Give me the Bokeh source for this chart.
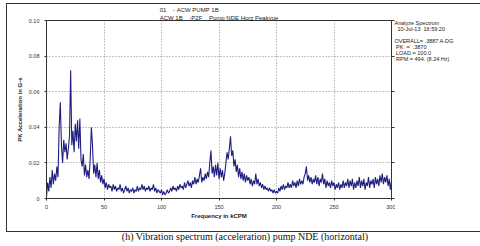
from bokeh.plotting import figure
from bokeh.models import LinearAxis, FixedTicker, Range1d, Div, Title
from bokeh.layouts import column, row
from bokeh.embed import file_html
from bokeh.resources import INLINE

# PK acceleration (G-s) read at 1 kCPM steps, 0..300 kCPM
accel_g = [
    0.001, 0.009, 0.004, 0.012, 0.006, 0.016, 0.008, 0.014, 0.010, 0.018,
    0.012, 0.040, 0.054, 0.030, 0.020, 0.033, 0.026, 0.031, 0.022, 0.028,
    0.035, 0.072, 0.030, 0.038, 0.026, 0.042, 0.032, 0.044, 0.028, 0.045,
    0.022, 0.018, 0.025, 0.013, 0.019, 0.012, 0.016, 0.011, 0.022, 0.040,
    0.030, 0.014, 0.019, 0.012, 0.020, 0.011, 0.016, 0.009, 0.013, 0.008,
    0.011, 0.006, 0.009, 0.005, 0.008, 0.006, 0.007, 0.004, 0.008, 0.005,
    0.007, 0.004, 0.006, 0.005, 0.008, 0.004, 0.006, 0.003, 0.005, 0.007,
    0.004, 0.006, 0.003, 0.005, 0.004, 0.006, 0.003, 0.005, 0.004, 0.007,
    0.004, 0.006, 0.005, 0.008, 0.005, 0.007, 0.004, 0.006, 0.005, 0.007,
    0.004, 0.006, 0.005, 0.008, 0.004, 0.006, 0.003, 0.005, 0.004, 0.003,
    0.005, 0.002, 0.004, 0.002, 0.003, 0.005, 0.003, 0.004, 0.006, 0.004,
    0.007, 0.005, 0.006, 0.004, 0.007, 0.005, 0.008, 0.006, 0.007, 0.005,
    0.009, 0.006, 0.008, 0.010, 0.007, 0.009, 0.006, 0.010, 0.008, 0.012,
    0.008, 0.011, 0.009, 0.013, 0.017, 0.009, 0.012, 0.010, 0.014, 0.011,
    0.015, 0.012, 0.020, 0.027, 0.014, 0.018, 0.012, 0.019, 0.013, 0.020,
    0.011, 0.017, 0.012, 0.016, 0.010, 0.014, 0.020, 0.026, 0.022, 0.028,
    0.035, 0.024, 0.027, 0.018, 0.022, 0.015, 0.019, 0.012, 0.017, 0.011,
    0.015, 0.010, 0.014, 0.009, 0.013, 0.010, 0.012, 0.008, 0.011, 0.007,
    0.010, 0.008, 0.014, 0.008, 0.011, 0.007, 0.009, 0.006, 0.008, 0.005,
    0.007, 0.005, 0.006, 0.004, 0.006, 0.004, 0.005, 0.003, 0.005, 0.003,
    0.004, 0.003, 0.006, 0.004, 0.007, 0.005, 0.008, 0.005, 0.007, 0.006,
    0.009, 0.006, 0.008, 0.006, 0.010, 0.007, 0.009, 0.006, 0.010, 0.007,
    0.011, 0.008, 0.010, 0.008, 0.012, 0.014, 0.018, 0.010, 0.013, 0.009,
    0.012, 0.008, 0.011, 0.009, 0.013, 0.008, 0.012, 0.007, 0.011, 0.009,
    0.014, 0.008, 0.011, 0.006, 0.010, 0.007, 0.009, 0.006, 0.010, 0.007,
    0.009, 0.005, 0.008, 0.006, 0.009, 0.005, 0.008, 0.006, 0.010, 0.006,
    0.009, 0.007, 0.011, 0.006, 0.010, 0.007, 0.011, 0.005, 0.009, 0.006,
    0.010, 0.007, 0.012, 0.006, 0.010, 0.007, 0.011, 0.005, 0.009, 0.007,
    0.012, 0.006, 0.010, 0.008, 0.011, 0.006, 0.012, 0.008, 0.011, 0.007,
    0.013, 0.009, 0.014, 0.008, 0.012, 0.009, 0.013, 0.007, 0.011, 0.005,
    0.010,
]
freq_kcpm = [float(i) for i in range(len(accel_g))]

x_ticks = [0, 50, 100, 150, 200, 250, 300]
x_grid = [50, 100, 150, 200, 250]
y_ticks = [0, 0.02, 0.04, 0.06, 0.08, 0.10]
y_tick_labels = ["0", "0.02", "0.04", "0.06", "0.08", "0.10"]
y_grid = [0.02, 0.04, 0.06, 0.08]

header_lines = ["01    - ACW PUMP 1B", "ACW 1B    -P2F    Pump NDE Horz Peakvue"]
info_lines = ["Analyze Spectrum", "  10-Jul-13  16:59:20", "",
              "OVERALL= .3887 A-DG", " PK  =  .3870", " LOAD = 100.0", " RPM = 494. (8.24 Hz)"]
caption = "(h) Vibration spectrum (acceleration) pump NDE (horizontal)"

FONT = "Liberation Sans"
AX = "#333333"
NBSP = "\u00a0"

p = figure(width=388, height=227, x_range=Range1d(0, 300), y_range=Range1d(0, 0.1),
           output_backend="svg", toolbar_location=None,
           min_border_left=39, min_border_right=4, min_border_top=14, min_border_bottom=33)
p.background_fill_color = "white"
p.border_fill_color = "white"
p.outline_line_color = AX
p.outline_line_width = 1

p.line(freq_kcpm, accel_g, line_color="#1f1f80", line_width=1.1)

p.xgrid.ticker = FixedTicker(ticks=x_grid)
p.ygrid.ticker = FixedTicker(ticks=y_grid)
for g in (p.xgrid, p.ygrid):
    g.grid_line_color = "#8a8a8a"
    g.grid_line_dash = "1 2"
    g.grid_line_width = 1

xa = p.xaxis[0]
xa.ticker = FixedTicker(ticks=x_ticks)
xa.axis_label = "Frequency in kCPM"
xa.major_tick_out = 2
xa.major_tick_in = 0
xa.major_label_standoff = 4
xa.axis_label_standoff = 1

ya = p.yaxis[0]
ya.ticker = FixedTicker(ticks=y_ticks)
ya.major_label_overrides = dict(zip(y_ticks, y_tick_labels))
ya.axis_label = "PK Acceleration in G-s"
ya.major_tick_out = 2
ya.major_tick_in = 0
ya.major_label_standoff = 5
ya.axis_label_standoff = 3

for ax in (xa, ya):
    ax.axis_line_color = AX
    ax.major_tick_line_color = AX
    ax.minor_tick_line_color = None
    ax.major_label_text_font = FONT
    ax.major_label_text_font_size = "5.5px"
    ax.major_label_text_color = "#333333"
    ax.axis_label_text_font = FONT
    ax.axis_label_text_font_size = "6px"
    ax.axis_label_text_font_style = "bold"
    ax.axis_label_text_color = "#222222"

ra = LinearAxis(ticker=FixedTicker(ticks=y_ticks), major_label_text_font_size="1px",
                major_label_text_color=None, major_label_standoff=0,
                major_tick_out=3, major_tick_in=0, minor_tick_line_color=None,
                axis_line_color=AX, major_tick_line_color=AX)
p.add_layout(ra, "right")

header_text = "\n".join(s.replace(" ", NBSP) for s in header_lines)
p.add_layout(Title(text=header_text, align="center", text_font=FONT, text_font_size="6px",
                   text_font_style="normal", text_color="#222222", text_line_height=1.25,
                   standoff=0), "above")

info_html = ('<div style="position:relative;left:-5.5px;top:10.6px;">'
             + "\n".join(info_lines) + "</div>")
info = Div(text=info_html, width=80, height=212,
           styles={"font-family": "Liberation Sans", "font-size": "5.5px",
                   "line-height": "6.1px", "color": "#222222", "white-space": "pre",
                   "background-color": "white"})

box = row(p, info, spacing=0, margin=(3, 0, 0, 6),
          styles={"border": "1px solid #333333", "background-color": "white"})

cap_html = '<div style="position:relative;top:-6px;">' + caption + "</div>"
cap = Div(text=cap_html, width=480, height=12,
          styles={"font-family": "Liberation Serif", "font-size": "10px",
                  "text-align": "center", "line-height": "12px", "color": "#111111"})

layout = column(box, cap, spacing=0)
open("out.html", "w").write(file_html(layout, INLINE))
